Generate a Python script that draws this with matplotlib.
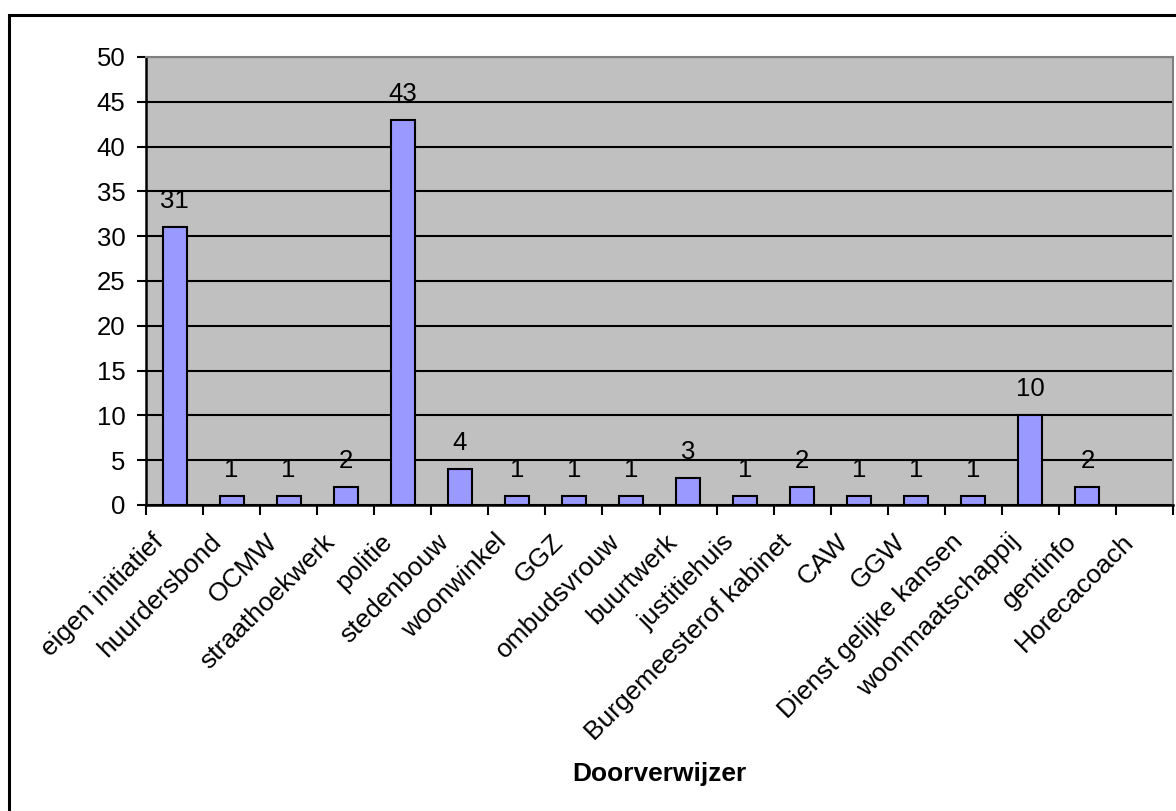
import matplotlib
matplotlib.use("Agg")
import matplotlib.pyplot as plt
import matplotlib.transforms as mtransforms
from matplotlib.patches import Rectangle
import numpy as np

categories = ["eigen initiatief", "huurdersbond", "OCMW", "straathoekwerk", "politie",
              "stedenbouw", "woonwinkel", "GGZ", "ombudsvrouw", "buurtwerk", "justitiehuis",
              "Burgemeesterof kabinet", "CAW", "GGW", "Dienst gelijke kansen",
              "woonmaatschappij", "gentinfo", "Horecacoach"]
values = [31, 1, 1, 2, 43, 4, 1, 1, 1, 3, 1, 2, 1, 1, 1, 10, 2, None]
yticks = [0, 5, 10, 15, 20, 25, 30, 35, 40, 45, 50]
xlabel = "Doorverwijzer"

plt.rcParams['font.family'] = ['Liberation Sans', 'DejaVu Sans']

W, H = 1176, 811
fig = plt.figure(figsize=(W / 100, H / 100), dpi=100)
fig.patch.set_facecolor('white')

# outer chart frame
fig.add_artist(Rectangle((9 / W, -0.05), 1.2, 1 - 14.5 / H + 0.05, transform=fig.transFigure,
                         fill=False, edgecolor='black', linewidth=2.2))

ax = fig.add_axes([146 / W, 1 - 505 / H, (1173 - 146) / W, (505 - 57) / H])
ax.set_facecolor('#c0c0c0')

n = len(categories)
x = np.arange(n)
for xi, v in zip(x, values):
    if v is None:
        continue
    ax.bar(xi, v, width=0.42, color='#9999ff', edgecolor='black', linewidth=1.5, zorder=3)
    ax.text(xi, v, str(v), ha='center', va='bottom', fontsize=18.5, zorder=4,
            transform=ax.transData + mtransforms.ScaledTranslation(0, 14 / 100, fig.dpi_scale_trans))

ax.set_xlim(-0.5, n - 0.5)
ax.set_ylim(0, 50)
ax.set_yticks(yticks)
ax.yaxis.grid(True, color='black', linewidth=1.5, zorder=1)
ax.set_axisbelow(True)
ax.tick_params(axis='y', length=6.5, width=1.5, labelsize=18.5, pad=8.3, direction='out')

ax.set_xticks(x)
ax.set_xticks(np.arange(n + 1) - 0.5, minor=True)
ax.tick_params(axis='x', which='major', length=0, labelsize=19, pad=4)
ax.tick_params(axis='x', which='minor', length=7, width=1.5, direction='out')
ax.set_xticklabels(categories, rotation=45, ha='right', va='top', rotation_mode='anchor')
offset = mtransforms.ScaledTranslation(-23 / 100, -19 / 100, fig.dpi_scale_trans)
for lbl in ax.get_xticklabels():
    lbl.set_transform(lbl.get_transform() + offset)

for side in ['left', 'bottom']:
    ax.spines[side].set_color('black')
    ax.spines[side].set_linewidth(1.8)
for side in ['top', 'right']:
    ax.spines[side].set_color('#808080')
    ax.spines[side].set_linewidth(1.5)

fig.text((146 + 1173) / 2 / W, 1 - 774 / H, xlabel, ha='center', va='center',
         fontsize=19, fontweight='bold')

fig.savefig('out.png', dpi=100)
